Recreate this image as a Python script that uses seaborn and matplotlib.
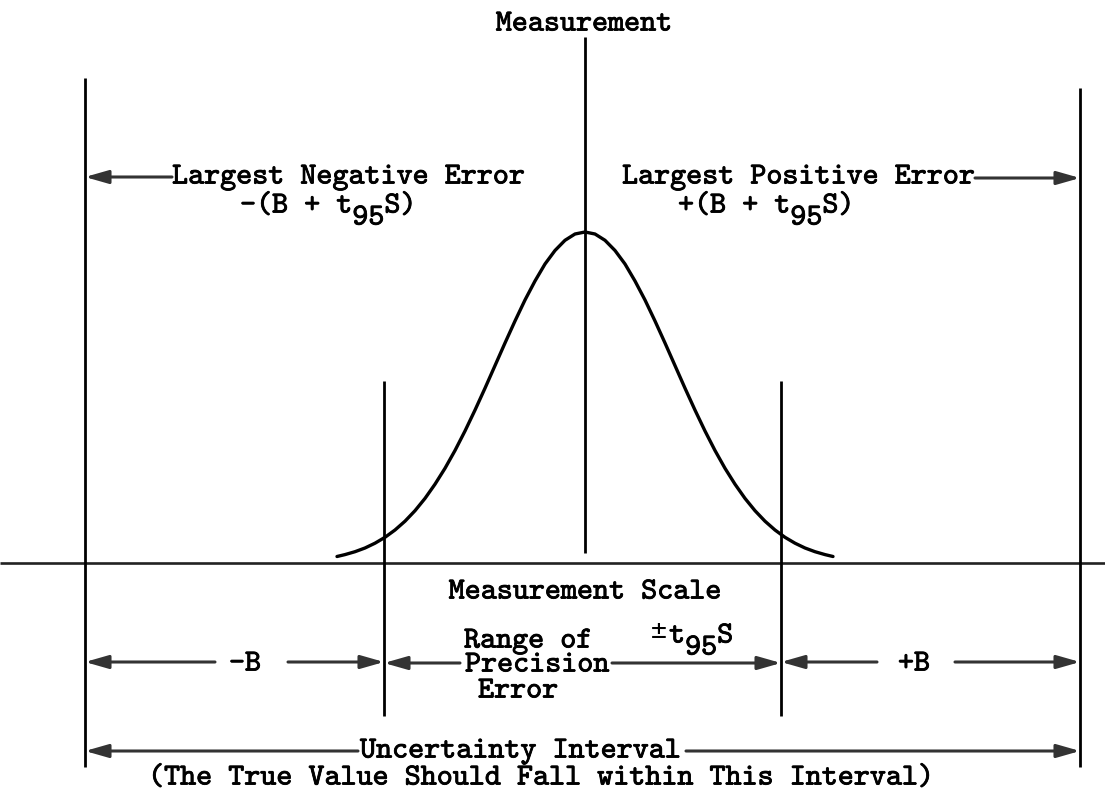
import matplotlib
matplotlib.use("Agg")
import matplotlib.pyplot as plt
import matplotlib.patheffects as pe
import pandas as pd
import seaborn as sns

# ---- data (pixel-like units) ----
# bell curve: horizontal position and height above the measurement scale
curve_x = [337, 345, 355, 365, 375, 385, 395, 405, 415, 425, 435, 445, 455, 465,
           475, 485, 495, 505, 515, 525, 535, 545, 555, 565, 575, 585,
           595, 605, 615, 625, 635, 645, 655, 665, 675, 685, 695, 705, 715,
           725, 735, 745, 755, 765, 775, 785, 795, 805, 815, 825, 833]
curve_h = [6.5, 8.4, 11.3, 15, 19.8, 25.7, 33, 41.8, 52.3, 64.6, 78.8, 94.7, 112.5, 132,
           152.9, 174.8, 197.4, 220, 242, 263, 282, 299, 312.5, 322.7, 329, 331,
           329, 322.7, 312.5, 299, 282, 263, 242, 220, 197.4, 174.8, 152.9, 132, 112.5,
           94.7, 78.8, 64.6, 52.3, 41.8, 33, 25.7, 19.8, 15, 11.3, 8.4, 6.5]

scale_y = 563          # level of the measurement scale line
# vertical markers: x, top, bottom
vline_x = [85, 1080, 585, 384, 781]
vline_top = [78, 88, 37, 381, 381]
vline_bot = [767, 767, 553, 716, 716]

labels_top = ["Measurement", "Largest Negative Error", "Largest Positive Error"]
label_scale = "Measurement Scale"
label_range = ["Range of", "Precision", "Error"]
label_unc = ["Uncertainty Interval", "(The True Value Should Fall within This Interval)"]

# ---- figure ----
sns.set_style("white")
plt.rcParams['font.family'] = ['cmtt10', 'DejaVu Sans Mono']
FS = 22.0
PITCH = 0.525 * FS * 100 / 72.0
EFF = [pe.withStroke(linewidth=0.6, foreground="black")]
DY = 2.5

fig = plt.figure(figsize=(11.05, 7.9), dpi=100)
ax = fig.add_axes([0, 0, 1, 1])

df = pd.DataFrame({"x": curve_x, "y": [scale_y - h for h in curve_h]})
sns.lineplot(data=df, x="x", y="y", ax=ax, color="black", lw=2.4, sort=True,
             estimator=None)
ax.set_xlim(0, 1105)
ax.set_ylim(790, 0)
ax.axis("off")

# measurement scale
ax.plot([0, 1105], [scale_y, scale_y], color="#222", lw=1.9, solid_capstyle="butt")
# verticals
ax.vlines(vline_x, vline_top, vline_bot, color="black", lw=2.0)


def txt(x, y, s, ha="left"):
    """Typewriter text: each word placed on the monospace grid."""
    if ha == "center":
        x = x - len(s) * PITCH / 2.0
    col = 0
    for word in s.split(" "):
        if word:
            ax.text(x + col * PITCH, y + DY, word, fontsize=FS, ha="left", va="center",
                    color="black", path_effects=EFF,
                    family=['cmtt10', 'DejaVu Sans Mono'])
        col += len(word) + 1


def expr(x0, y, prefix, tail="S)"):
    txt(x0, y, prefix)
    n = len(prefix)
    txt(x0 + n * PITCH, y + 12, "95")
    txt(x0 + (n + 2) * PITCH, y, tail)


def arrow(tail, tip):
    ax.annotate("", xy=tip, xytext=tail,
                arrowprops=dict(arrowstyle="-|>,head_length=0.7,head_width=0.2",
                                mutation_scale=20, lw=2.2, color="#333",
                                shrinkA=0, shrinkB=0))


txt(584, 22, labels_top[0], ha="center")
txt(172, 175, labels_top[1])
txt(622, 175, labels_top[2])
expr(240, 204, "-(B + t")
expr(678, 204, "+(B + t")
arrow((172, 177), (85, 177))
arrow((975, 178), (1080, 178))

txt(585, 590, label_scale, ha="center")
txt(464, 639, label_range[0])
txt(465, 663, label_range[1])
txt(478, 689, label_range[2])
ax.text(651, 629 + DY, "\u00b1", fontsize=19, ha="left", va="center",
        family="DejaVu Sans Mono", color="black")
expr(653 + PITCH, 634, "t", tail="S")

txt(245, 662, "-B", ha="center")
txt(914, 662, "+B", ha="center")
arrow((215, 662), (85, 662))
arrow((288, 662), (384, 662))
arrow((460, 663), (384, 663))
arrow((612, 663), (781, 663))
arrow((877, 662), (781, 662))
arrow((955, 662), (1080, 662))

txt(360, 749, label_unc[0])
txt(148, 776, label_unc[1])
arrow((358, 751), (85, 751))
arrow((686, 751), (1080, 751))

fig.savefig("out.png", dpi=100)
